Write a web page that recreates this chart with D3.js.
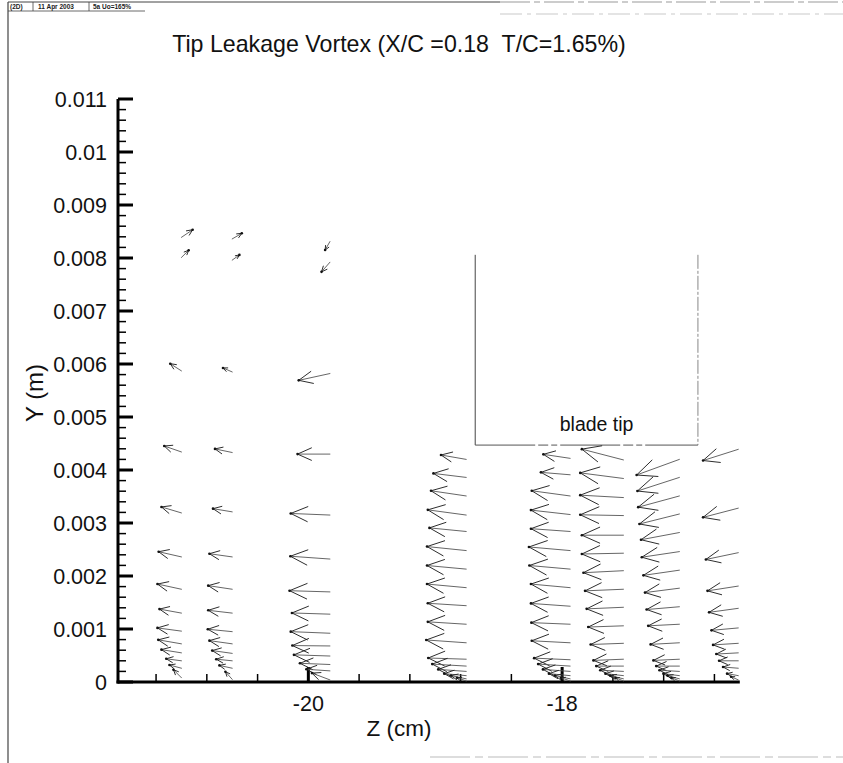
<!DOCTYPE html>
<html>
<head>
<meta charset="utf-8">
<script src="https://cdn.jsdelivr.net/npm/d3@7"></script>
<style>
  html, body { margin: 0; padding: 0; background: #fff; }
  svg text { font-family: "Liberation Sans", Arial, Helvetica, sans-serif; }
</style>
</head>
<body>
<svg id="chart" width="843" height="763"></svg>
<script>
// ---- chart text ----
const titleText = "Tip Leakage Vortex (X/C =0.18  T/C=1.65%)";
const headerCells = ["(2D)", "11 Apr 2003", "5a Uo=165%"];
const xAxisTitle = "Z (cm)";
const yAxisTitle = "Y (m)";
const bladeLabel = "blade tip";

// ---- axes ----
const xDomain = [-21.5, -16.6];
const yDomain = [0, 0.011];
const xMajorTicks = [-20, -18];
const xTickLabels = ["-20", "-18"];
const xMinorTicks = [-21.2, -20.8, -20.4, -19.6, -19.2, -18.8, -18.4, -17.6, -17.2, -16.8];
const yMajorTicks = [0, 0.001, 0.002, 0.003, 0.004, 0.005, 0.006, 0.007, 0.008, 0.009, 0.01, 0.011];
const yTickLabels = ["0", "0.001", "0.002", "0.003", "0.004", "0.005", "0.006", "0.007", "0.008", "0.009", "0.01", "0.011"];

// ---- blade tip outline (Z in cm, Y in m) ----
const bladeZ = [-18.685, -16.93];
const bladeY = [0.00447, 0.00806];

// ---- measured velocity profiles: station Z (cm), point heights Y (m), in-plane velocity (U, V) ----
const stationZ = [-21.0, -20.6, -19.83, -18.756, -17.937, -17.517, -17.076, -16.612];

const profileY = [
  [0.00839, 0.00801, 0.00587, 0.00434, 0.00319, 0.00236, 0.00175, 0.00130, 0.00096, 0.00072, 0.00055, 0.00040, 0.00026, 0.00008],
  [0.00836, 0.00796, 0.00585, 0.00433, 0.00321, 0.00236, 0.00175, 0.00130, 0.00095, 0.00072, 0.00054, 0.00040, 0.00026, 0.00005],
  [0.00831, 0.00792, 0.00582, 0.00430, 0.00315, 0.00232, 0.00170, 0.00128, 0.00092, 0.00068, 0.00049, 0.00033, 0.00021, 0.00004],
  [0.00420, 0.00386, 0.00351, 0.00315, 0.00284, 0.00248, 0.00213, 0.00178, 0.00144, 0.00109, 0.00074, 0.00043, 0.00030, 0.00020, 0.00012, 0.00006, 0.00002],
  [0.00422, 0.00391, 0.00351, 0.00316, 0.00284, 0.00248, 0.00213, 0.00178, 0.00143, 0.00109, 0.00074, 0.00042, 0.00030, 0.00020, 0.00012, 0.00006, 0.00002],
  [0.00419, 0.00384, 0.00348, 0.00314, 0.00277, 0.00243, 0.00210, 0.00175, 0.00141, 0.00106, 0.00073, 0.00043, 0.00030, 0.00020, 0.00012, 0.00006, 0.00002],
  [0.00420, 0.00386, 0.00351, 0.00317, 0.00282, 0.00246, 0.00211, 0.00177, 0.00142, 0.00109, 0.00074, 0.00043, 0.00030, 0.00020, 0.00012, 0.00006, 0.00002],
  [0.00439, 0.00328, 0.00244, 0.00181, 0.00139, 0.00102, 0.00073, 0.00055, 0.00040, 0.00026, 0.00012, 0.00004]
];

const profileU = [
  [0.28, 0.18, -0.28, -0.43, -0.50, -0.57, -0.60, -0.55, -0.60, -0.58, -0.50, -0.38, -0.30, -0.20],
  [0.24, 0.18, -0.23, -0.43, -0.48, -0.57, -0.60, -0.60, -0.61, -0.57, -0.50, -0.40, -0.32, -0.17],
  [-0.12, -0.21, -0.78, -0.81, -0.98, -0.99, -1.01, -0.95, -0.98, -0.94, -0.90, -0.75, -0.59, -0.45],
  [-0.63, -0.82, -0.88, -0.96, -0.92, -0.98, -0.98, -0.98, -0.96, -0.96, -1.00, -0.95, -0.85, -0.70, -0.55, -0.38, -0.23],
  [-0.67, -0.73, -0.96, -0.98, -0.98, -1.03, -1.02, -0.98, -0.98, -0.97, -0.96, -0.90, -0.80, -0.68, -0.53, -0.38, -0.23],
  [-1.04, -1.08, -1.08, -1.08, -1.04, -1.04, -1.00, -0.96, -0.92, -0.88, -0.82, -0.75, -0.68, -0.58, -0.45, -0.33, -0.20],
  [-1.07, -1.05, -1.03, -1.00, -0.96, -0.94, -0.90, -0.86, -0.82, -0.78, -0.72, -0.65, -0.58, -0.50, -0.40, -0.30, -0.20],
  [-0.88, -0.88, -0.81, -0.77, -0.73, -0.67, -0.63, -0.55, -0.48, -0.38, -0.28, -0.18]
];

const profileV = [
  [0.19, 0.18, 0.18, 0.15, 0.15, 0.13, 0.13, 0.10, 0.08, 0.10, 0.08, 0.05, 0.08, 0.20],
  [0.14, 0.13, 0.10, 0.09, 0.08, 0.08, 0.09, 0.07, 0.06, 0.08, 0.07, 0.04, 0.07, 0.19],
  [-0.21, -0.24, -0.17, 0.00, 0.04, 0.07, 0.03, 0.03, 0.04, 0.01, 0.03, 0.03, 0.04, 0.17],
  [0.11, 0.10, 0.13, 0.13, 0.09, 0.10, 0.09, 0.09, 0.06, 0.06, 0.07, 0.03, 0.05, 0.05, 0.05, 0.08, 0.08],
  [0.10, 0.06, 0.13, 0.11, 0.07, 0.09, 0.09, 0.09, 0.07, 0.04, 0.05, 0.04, 0.05, 0.05, 0.05, 0.08, 0.08],
  [0.27, 0.14, 0.06, 0.02, 0.00, -0.02, -0.05, -0.04, -0.04, -0.03, -0.03, -0.03, 0.00, 0.03, 0.05, 0.08, 0.08],
  [-0.39, -0.34, -0.28, -0.25, -0.18, -0.14, -0.13, -0.11, -0.07, -0.04, -0.04, -0.03, 0.00, 0.03, 0.05, 0.08, 0.08],
  [-0.28, -0.23, -0.17, -0.12, -0.10, -0.06, -0.04, -0.03, 0.00, 0.03, 0.05, 0.08]
];

// ---- drawing ----
const svg = d3.select("#chart");
const W = 843, H = 763;
const plotLeft = 118, plotBottom = 682, plotTop = 99;

svg.append("rect").attr("width", W).attr("height", H).attr("fill", "#fff");

const x = d3.scaleLinear().domain(xDomain).range([plotLeft, 739.8]);
const y = d3.scaleLinear().domain(yDomain).range([plotBottom, plotTop]);

// page frame and header strip
const frame = svg.append("g").attr("stroke", "#444").attr("fill", "none");
frame.append("line").attr("x1", 8).attr("x2", 8).attr("y1", 2).attr("y2", H).attr("stroke-width", 1.2);
frame.append("line").attr("x1", 8).attr("x2", 500).attr("y1", 2).attr("y2", 2).attr("stroke-width", 1);
frame.append("line").attr("x1", 500).attr("x2", W).attr("y1", 2).attr("y2", 2)
  .attr("stroke-width", 1).attr("stroke", "#999").attr("stroke-dasharray", "30,4,6,4");
frame.append("line").attr("x1", 500).attr("x2", W).attr("y1", 14).attr("y2", 14)
  .attr("stroke-width", 0.8).attr("stroke", "#bbb").attr("stroke-dasharray", "22,5,4,5");
frame.append("line").attr("x1", 8).attr("x2", 145).attr("y1", 11).attr("y2", 11).attr("stroke-width", 0.8);
frame.append("line").attr("x1", 430).attr("x2", W).attr("y1", 757).attr("y2", 757)
  .attr("stroke-width", 0.8).attr("stroke", "#aaa").attr("stroke-dasharray", "40,5,8,5");

const headerX = [10, 38, 93];
svg.append("g").selectAll("text").data(headerCells).join("text")
  .attr("x", (d, i) => headerX[i]).attr("y", 9)
  .attr("font-size", 6.5).attr("font-weight", "bold").attr("fill", "#222")
  .text(d => d);
svg.append("g").attr("stroke", "#444").attr("stroke-width", 0.8)
  .selectAll("line").data([33, 89]).join("line")
  .attr("x1", d => d).attr("x2", d => d).attr("y1", 2).attr("y2", 11);

// title
svg.append("text")
  .attr("x", 399).attr("y", 52)
  .attr("text-anchor", "middle").attr("font-size", 23.2)
  .style("white-space", "pre").attr("fill", "#111")
  .text(titleText);

// axes
const axes = svg.append("g").attr("stroke", "#000");
axes.append("line").attr("x1", plotLeft).attr("x2", plotLeft)
  .attr("y1", y(yDomain[0]) + 1.5).attr("y2", y(yDomain[1])).attr("stroke-width", 3);
axes.append("line").attr("x1", plotLeft - 1.5).attr("x2", x(xDomain[1]))
  .attr("y1", plotBottom).attr("y2", plotBottom).attr("stroke-width", 3);

const yMinorTicks = d3.range(1, 55).map(i => i * 0.0002).filter(v => Math.abs(v * 1000 - Math.round(v * 1000)) > 1e-6);
axes.selectAll(".ymaj").data(yMajorTicks).join("line").attr("class", "ymaj")
  .attr("x1", plotLeft).attr("x2", plotLeft + 15)
  .attr("y1", d => y(d)).attr("y2", d => y(d)).attr("stroke-width", 3);
axes.selectAll(".ymin").data(yMinorTicks).join("line").attr("class", "ymin")
  .attr("x1", plotLeft).attr("x2", plotLeft + 8)
  .attr("y1", d => y(d)).attr("y2", d => y(d)).attr("stroke-width", 1.5);
axes.selectAll(".xmaj").data(xMajorTicks).join("line").attr("class", "xmaj")
  .attr("x1", d => x(d)).attr("x2", d => x(d))
  .attr("y1", plotBottom).attr("y2", plotBottom - 15).attr("stroke-width", 3);
axes.selectAll(".xmin").data(xMinorTicks).join("line").attr("class", "xmin")
  .attr("x1", d => x(d)).attr("x2", d => x(d))
  .attr("y1", plotBottom).attr("y2", plotBottom - 8).attr("stroke-width", 1.5);

svg.append("g").selectAll("text").data(yMajorTicks).join("text")
  .attr("x", plotLeft - 11).attr("y", d => y(d) + 7.5)
  .attr("text-anchor", "end").attr("font-size", 21.5).attr("fill", "#111")
  .text((d, i) => yTickLabels[i]);
svg.append("g").selectAll("text").data(xMajorTicks).join("text")
  .attr("x", d => x(d)).attr("y", 711)
  .attr("text-anchor", "middle").attr("font-size", 21.5).attr("fill", "#111")
  .text((d, i) => xTickLabels[i]);

svg.append("text").attr("x", 399).attr("y", 736)
  .attr("text-anchor", "middle").attr("font-size", 22.5).attr("fill", "#111")
  .text(xAxisTitle);
svg.append("text")
  .attr("transform", "translate(43,393) rotate(-90)")
  .attr("text-anchor", "middle").attr("font-size", 24).attr("fill", "#111")
  .text(yAxisTitle);

// blade tip outline
const blade = svg.append("g").attr("fill", "none");
blade.append("line").attr("x1", x(bladeZ[0])).attr("x2", x(bladeZ[0]))
  .attr("y1", y(bladeY[1])).attr("y2", y(bladeY[0])).attr("stroke", "#444").attr("stroke-width", 1);
blade.append("line").attr("x1", x(bladeZ[1])).attr("x2", x(bladeZ[1]))
  .attr("y1", y(bladeY[1])).attr("y2", y(bladeY[0])).attr("stroke", "#888").attr("stroke-width", 1)
  .attr("stroke-dasharray", "14,2,3,2");
blade.append("line").attr("x1", x(bladeZ[0])).attr("x2", x(bladeZ[1]))
  .attr("y1", y(bladeY[0])).attr("y2", y(bladeY[0])).attr("stroke", "#555").attr("stroke-width", 1)
  .attr("stroke-dasharray", "60,3,10,3,6,3");
svg.append("text").attr("x", (x(bladeZ[0]) + x(bladeZ[1])) / 2 + 10).attr("y", y(bladeY[0]) - 14)
  .attr("text-anchor", "middle").attr("font-size", 19.5).attr("fill", "#111")
  .text(bladeLabel);

// velocity vectors (tail at the measurement point)
const vecScale = 40;         // px per unit velocity
const headFrac = 0.47, headAngle = 24 * Math.PI / 180;
const vectors = [];
stationZ.forEach((z, s) => {
  profileY[s].forEach((yy, j) => {
    vectors.push({ z, y: yy, u: profileU[s][j], v: profileV[s][j] });
  });
});

const vg = svg.append("g").attr("fill", "none").attr("stroke-linecap", "round");
vectors.forEach(d => {
  const x0 = x(d.z), y0 = y(d.y);
  const x1 = x0 + d.u * vecScale, y1 = y0 - d.v * vecScale;
  const L = Math.hypot(x1 - x0, y1 - y0);
  const th = Math.atan2(y1 - y0, x1 - x0) + Math.PI;
  const b = headFrac * L;
  vg.append("line").attr("x1", x0).attr("y1", y0).attr("x2", x1).attr("y2", y1)
    .attr("stroke", "#555").attr("stroke-width", 0.9);
  const path = d3.path();
  path.moveTo(x1 + b * Math.cos(th + headAngle), y1 + b * Math.sin(th + headAngle));
  path.lineTo(x1, y1);
  path.lineTo(x1 + b * Math.cos(th - headAngle), y1 + b * Math.sin(th - headAngle));
  vg.append("path").attr("d", path.toString()).attr("stroke", "#222").attr("stroke-width", 0.95);
  vg.append("circle").attr("cx", x1).attr("cy", y1).attr("r", 1.3).attr("fill", "#111");
});
</script>
</body>
</html>
